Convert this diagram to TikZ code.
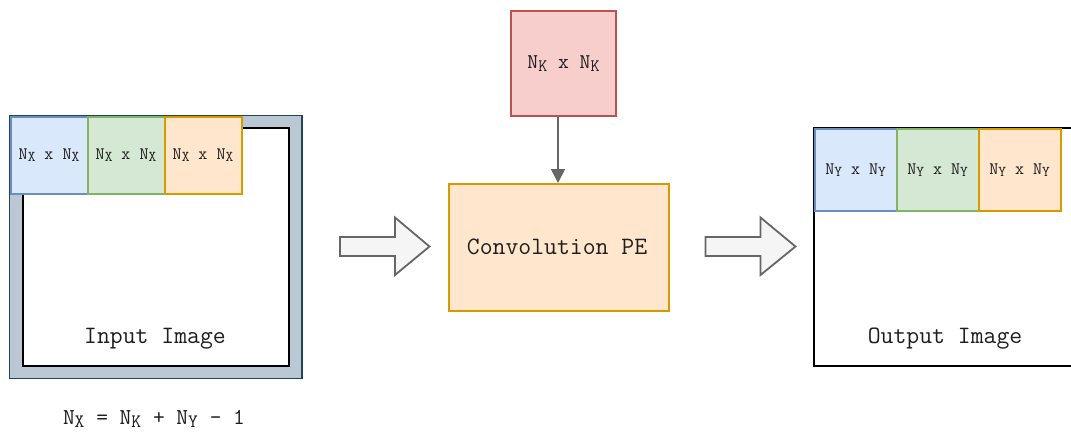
\documentclass[tikz,border=0pt]{standalone}
\usepackage{fontspec}
\usetikzlibrary{arrows.meta}
\definecolor{txt}{HTML}{1E1E1E}
\definecolor{bluef}{HTML}{DAE8FC}\definecolor{blued}{HTML}{6C8EBF}
\definecolor{greenf}{HTML}{D5E8D4}\definecolor{greend}{HTML}{82B366}
\definecolor{orf}{HTML}{FFE6CC}\definecolor{ord}{HTML}{D79B00}
\definecolor{redf}{HTML}{F8CECC}\definecolor{redd}{HTML}{B85450}
\definecolor{frmf}{HTML}{BAC8D3}\definecolor{frmd}{HTML}{23445D}
\definecolor{arrf}{HTML}{F5F5F5}\definecolor{arrd}{HTML}{666666}
\newcommand\mysub[2]{\raisebox{-0.3ex}{\fontsize{#1}{#1}\selectfont #2}}
\tikzset{
  box/.style={draw, line width=2pt, inner sep=0pt, anchor=north west},
  lbl/.style={text=txt, font=\ttfamily\fontsize{25}{28}\selectfont},
  tilelbl/.style={text=txt, font=\ttfamily\fontsize{17.5}{19}\selectfont},
  blockarrow/.style={draw=arrd, fill=arrf, line width=1.8pt},
}
\begin{document}
\begin{tikzpicture}[x=1pt,y=-1pt]
\clip (0,0) rectangle (1071,432);
\fill[white] (0,0) rectangle (1071,432);
% input image
\draw[fill=frmf, draw=frmd, line width=1.8pt] (9.5,115.5) rectangle (302,378.5);
\draw[fill=white, draw=black, line width=2pt] (23,127.5) rectangle (289,365.5);
\node[box, fill=bluef, draw=blued, minimum width=77pt, minimum height=77pt] (i1) at (9.5,115.5) {};
\node[box, fill=greenf, draw=greend, minimum width=77pt, minimum height=77pt] (i2) at (86.5,115.5) {};
\node[box, fill=orf, draw=ord, minimum width=77pt, minimum height=77pt] (i3) at (163.5,115.5) {};
\node[tilelbl] (t1) at (i1.center) {N\mysub{15}{X} x N\mysub{15}{X}};
\node[tilelbl] (t2) at (i2.center) {N\mysub{15}{X} x N\mysub{15}{X}};
\node[tilelbl] (t3) at (i3.center) {N\mysub{15}{X} x N\mysub{15}{X}};
\node[lbl] (inlbl) at (155,338.5) {Input Image};
% formula
\node[text=txt, font=\ttfamily\fontsize{22.8}{25}\selectfont] (formula) at (154,419) {N\mysub{19}{X} = N\mysub{19}{K} + N\mysub{19}{Y} - 1};
% kernel
\node[box, fill=redf, draw=redd, minimum width=105pt, minimum height=105pt] (kern) at (510,10) {};
\node[text=txt, font=\ttfamily\fontsize{21}{23}\selectfont] (kl) at (kern.center) {N\mysub{17.5}{K} x N\mysub{17.5}{K}};
% conv PE
\node[box, fill=orf, draw=ord, minimum width=220pt, minimum height=127pt] (pe) at (448,183) {};
\node[lbl] (pel) at (557,246.5) {Convolution PE};
\draw[draw=arrd, line width=1.8pt, -{Triangle[length=14pt,width=14pt]}, arrd] (kern.south -| 558,0) -- (pe.north -| 558,0);
% block arrows
\draw[blockarrow] (340,237) -- (395,237) -- (395,217.5) -- (429.5,246.5) -- (395,275) -- (395,256) -- (340,256) -- cycle;
\draw[blockarrow] (705.5,237) -- (760.5,237) -- (760.5,217.5) -- (795.5,246.5) -- (760.5,275) -- (760.5,256) -- (705.5,256) -- cycle;
% output image
\draw[draw=black, line width=2pt] (1080,128) -- (813.5,128) -- (813.5,365.5) -- (1080,365.5);
\node[box, fill=bluef, draw=blued, minimum width=82pt, minimum height=82pt] (o1) at (813.5,128) {};
\node[box, fill=greenf, draw=greend, minimum width=82pt, minimum height=82pt] (o2) at (895.5,128) {};
\node[box, fill=orf, draw=ord, minimum width=82pt, minimum height=82pt] (o3) at (977.5,128) {};
\node[tilelbl] (u1) at (o1.center) {N\mysub{15}{Y} x N\mysub{15}{Y}};
\node[tilelbl] (u2) at (o2.center) {N\mysub{15}{Y} x N\mysub{15}{Y}};
\node[tilelbl] (u3) at (o3.center) {N\mysub{15}{Y} x N\mysub{15}{Y}};
\node[lbl] (outlbl) at (945,338.5) {Output Image};
\end{tikzpicture}
\end{document}
